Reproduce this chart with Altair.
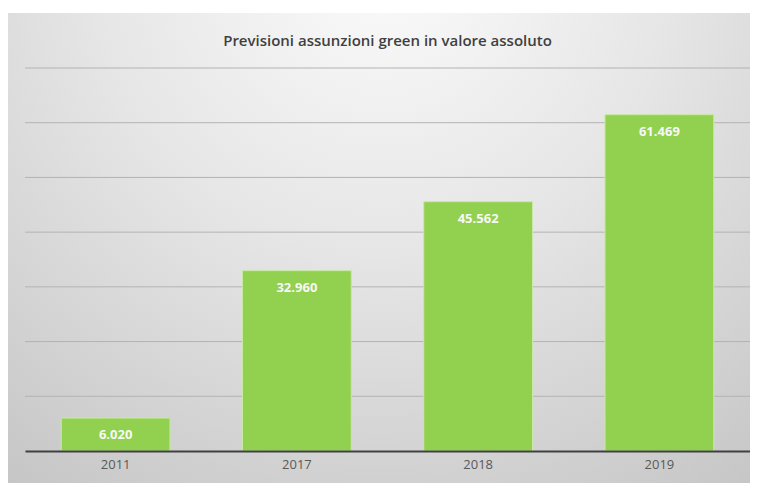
import altair as alt
import pandas as pd

years = ["2011", "2017", "2018", "2019"]
values = [6020, 32960, 45562, 61469]
labels = [f"{v:,}".replace(",", ".") for v in values]
grid_values = [10000, 20000, 30000, 40000, 50000, 60000, 70000]

df = pd.DataFrame({"anno": years, "valore": values, "etichetta": labels})
gdf = pd.DataFrame({"g": grid_values})

bg = alt.Chart(alt.Data(values=[{"k": 1}])).mark_rect(
    fill={
        "gradient": "radial",
        "x1": 0.5, "y1": 0.12, "r1": 0.0,
        "x2": 0.5, "y2": 0.12, "r2": 0.85,
        "stops": [
            {"offset": 0.0, "color": "#fbfbfb"},
            {"offset": 0.45, "color": "#e6e6e6"},
            {"offset": 1.0, "color": "#c6c6c6"},
        ],
    },
).encode(
    x=alt.value(-18), x2=alt.value(733), y=alt.value(-55), y2=alt.value(416)
)

yscale = alt.Scale(domain=[0, 70000], nice=False)

grid = alt.Chart(gdf).mark_rule(color="#b3b3b3", strokeWidth=1).encode(
    y=alt.Y("g:Q", scale=yscale, axis=None),
    x=alt.value(0), x2=alt.value(725),
)

base = alt.Chart(df)

bars = base.mark_bar(color="#92d050", stroke="#c8e8a4", strokeWidth=1).encode(
    x=alt.X(
        "anno:N",
        sort=years,
        title=None,
        scale=alt.Scale(paddingInner=0.4, paddingOuter=0.2),
        axis=alt.Axis(
            labelAngle=0, labelFontSize=13, labelColor="#595959", labelFont="Open Sans",
            ticks=False, domainColor="#404040", domainWidth=2, labelPadding=7, zindex=1,
        ),
    ),
    y=alt.Y("valore:Q", title=None, scale=yscale, axis=None),
)

text = base.mark_text(
    color="#f8f8f8", fontWeight="bold", fontSize=13, font="Open Sans", dy=17, baseline="middle"
).encode(
    x=alt.X("anno:N", sort=years),
    y=alt.Y("valore:Q", scale=yscale),
    text="etichetta:N",
)

chart = alt.layer(bg, grid, bars, text).properties(
    width=725,
    height=383,
    title=alt.TitleParams(
        "Previsioni assunzioni green in valore assoluto",
        fontSize=15, font="Open Sans", fontWeight=600, color="#404040",
        anchor="middle", frame="group", offset=0, dy=36,
    ),
    autosize=alt.AutoSizeParams(type="none"),
    padding={"left": 17, "top": 60, "right": 0, "bottom": 32},
).configure_view(stroke=None).configure(background="white")

chart.save("out.html", embed_options={"renderer": "svg", "actions": False})
